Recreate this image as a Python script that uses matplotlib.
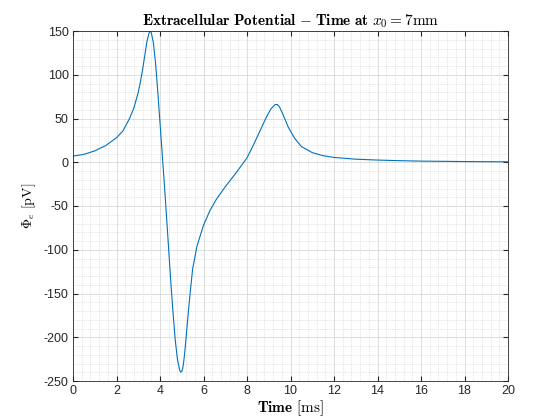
import matplotlib
matplotlib.use("Agg")
import matplotlib.pyplot as plt
from matplotlib.ticker import MultipleLocator

plt.rcParams["mathtext.fontset"] = "cm"
plt.rcParams["font.family"] = ["Liberation Sans", "DejaVu Sans"]
plt.rcParams["axes.unicode_minus"] = False

# time (ms) and extracellular potential (pV)
time_ms = [0, 0.5, 1, 1.5, 2, 2.3, 2.6, 2.8, 3.0, 3.1, 3.2, 3.3, 3.4, 3.5, 3.55,
           3.6, 3.7, 3.8, 3.9, 4.0, 4.1, 4.2, 4.3, 4.4, 4.5, 4.6, 4.7, 4.8, 4.9,
           4.95, 5.0, 5.05, 5.1, 5.15, 5.2, 5.3, 5.4, 5.5, 5.7, 6.0, 6.3, 6.6,
           7.0, 7.5, 8.0, 8.3, 8.6, 8.9, 9.1, 9.3, 9.4, 9.5, 9.7, 9.9, 10.2,
           10.5, 11, 11.5, 12, 13, 14, 15, 16, 18, 20]
phi_pv = [7, 9, 13, 19, 28, 36, 50, 62, 80, 92, 106, 122, 138, 148, 150,
          148, 136, 112, 80, 45, 10, -25, -62, -100, -138, -172, -203, -225, -237,
          -240, -239, -235, -226, -214, -200, -172, -146, -122, -96, -72, -55, -42,
          -28, -12, 5, 20, 36, 52, 61, 66, 66, 63, 52, 40, 27,
          18, 11, 7.5, 5.5, 3.5, 2.5, 1.8, 1.3, 0.8, 0.5]

fig = plt.figure(figsize=(5.6, 4.2), dpi=100)
ax = fig.add_axes([73 / 560, 1 - 381 / 420, 435 / 560, 350 / 420])
ax.plot(time_ms, phi_pv, color="#0072BD", linewidth=0.8)

ax.set_xlim(0, 20)
ax.set_ylim(-250, 150)
ax.xaxis.set_major_locator(MultipleLocator(2))
ax.yaxis.set_major_locator(MultipleLocator(50))
ax.xaxis.set_minor_locator(MultipleLocator(0.4))
ax.yaxis.set_minor_locator(MultipleLocator(10))
ax.grid(True, which="major", color="#d0d0d0", linewidth=0.5)
ax.grid(True, which="minor", color="#cccccc", linewidth=0.5, linestyle=":")
ax.tick_params(which="both", direction="in", top=True, right=True, labelsize=9,
               colors="#262626", pad=3)
ax.tick_params(which="minor", length=0)
for s in ax.spines.values():
    s.set_color("#262626")
    s.set_linewidth(0.6)

ax.set_title(r"$\mathbf{Extracellular\ Potential}$ $\mathbf{-}$ $\mathbf{Time\ at}\ x_0 = 7\mathrm{mm}$",
             fontsize=11, pad=4)
ax.set_xlabel(r"$\mathbf{Time}\ [\mathrm{ms}]$", fontsize=11, labelpad=1)
ax.set_ylabel(r"$\Phi_e\ [\mathrm{pV}]$", fontsize=10)

fig.savefig("out.png")
